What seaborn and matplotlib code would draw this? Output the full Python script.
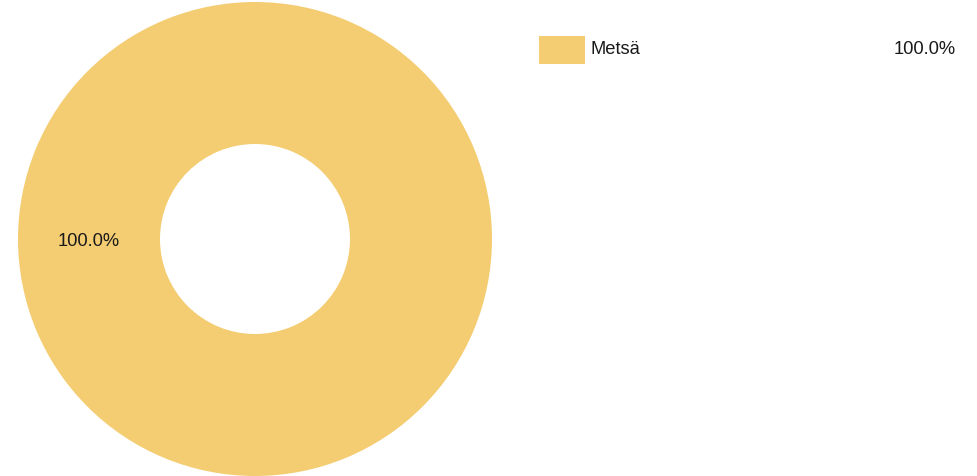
import matplotlib
matplotlib.use("Agg")
import matplotlib.pyplot as plt
import seaborn as sns
from matplotlib.patches import Rectangle

categories = ["Metsä"]
values = [100.0]
colors = ["#F4CD73"]

sns.set_theme(style="white")
plt.rcParams['font.family'] = ['Liberation Sans', 'DejaVu Sans']

W, H = 977, 477
fig = plt.figure(figsize=(W / 100, H / 100), dpi=100)
ax = fig.add_axes([0, 0, 1, 1])
ax.set_xlim(0, W)
ax.set_ylim(H, 0)
ax.set_aspect('equal')
ax.axis('off')

total = sum(values)
cx, cy, r_out, r_in = 255, 240, 237, 95
wedges, _ = ax.pie(values, colors=colors, center=(cx, cy), radius=r_out,
                   startangle=90, counterclock=False,
                   wedgeprops=dict(width=r_out - r_in, linewidth=0))
ax.set_xlim(0, W)
ax.set_ylim(H, 0)

for i, (cat, v) in enumerate(zip(categories, values)):
    pct = f"{v / total * 100:.1f}%"
    ax.text(89, 242, pct, ha='center', va='center', fontsize=13.2, color='#1a1a1a')
    y = 51 + i * 30
    ax.add_patch(Rectangle((539, y - 14), 46, 28, facecolor=colors[i], edgecolor='none'))
    ax.text(591, y - 2, cat, ha='left', va='center', fontsize=13.2, color='#1a1a1a')
    ax.text(956, y - 1, pct, ha='right', va='center', fontsize=13.2, color='#1a1a1a')

fig.savefig("out.png", dpi=100)
